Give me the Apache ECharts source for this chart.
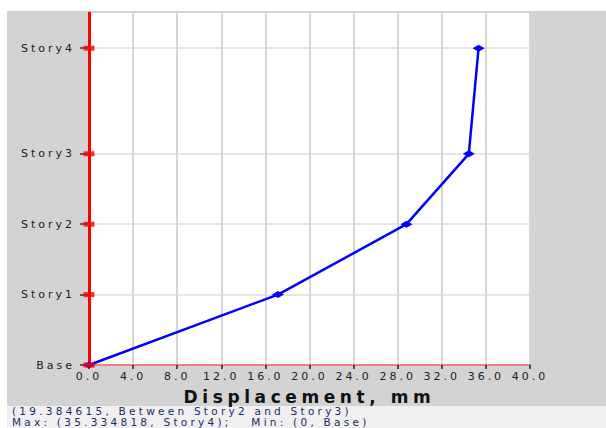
<!DOCTYPE html>
<html>
<head>
<meta charset="utf-8">
<script src="https://cdn.jsdelivr.net/npm/echarts@6/dist/echarts.min.js"></script>
<style>
  html, body { margin: 0; padding: 0; background: #fff; }
  .wrap { position: relative; width: 606px; height: 428px; overflow: hidden; font-family: "DejaVu Sans", sans-serif; }
  .panel { position: absolute; left: 7px; top: 11px; width: 599px; height: 395px; background: #d3d3d3; }
  .status { position: absolute; left: 7px; top: 406px; width: 599px; height: 22px; background: #f0f0f0; }
  .status div { position: absolute; left: 5px; font-size: 10.5px; line-height: 11px; height: 11px; color: #1d2a6b; letter-spacing: 0.31em; white-space: nowrap; }
  #chart { position: absolute; left: 0; top: 0; width: 606px; height: 428px; }
  /* spread the chart texts like the original */
  #chart text { letter-spacing: 0.27em; }
</style>
</head>
<body>
<div class="wrap">
  <div class="panel"></div>
  <div class="status">
    <div style="top: 0px;">(19.384615, Between Story2 and Story3)</div>
    <div style="top: 11px;">Max: (35.334818, Story4);&nbsp;&nbsp;&nbsp;Min: (0, Base)</div>
  </div>
  <div id="chart"></div>
</div>
<script>
// story names and elevations (m)
const storyNames = ['Base', 'Story1', 'Story2', 'Story3', 'Story4'];
const storyElev = [0, 3, 6, 9, 13.5];
// displacement at each story (mm)
const displacement = [0, 17.14, 28.8, 34.45, 35.334818];

const chart = echarts.init(document.getElementById('chart'), null, { renderer: 'svg' });

const lineData = displacement.map((d, i) => [d, storyElev[i]]);
const axisMarks = storyElev.map((e) => [0, e]);

const option = {
  animation: false,
  backgroundColor: 'transparent',
  textStyle: { fontFamily: 'DejaVu Sans' },
  grid: {
    left: 89,
    top: 13,
    right: 76,
    bottom: 63,
    show: true,
    backgroundColor: '#ffffff',
    borderWidth: 0,
  },
  xAxis: {
    type: 'value',
    min: 0,
    max: 40,
    interval: 4,
    name: 'Displacement, mm',
    nameLocation: 'middle',
    nameGap: 23,
    nameTextStyle: { fontSize: 17, fontWeight: 'bold', color: '#111' },
    axisLine: { show: true, onZero: false, lineStyle: { color: '#f08080', width: 2 } },
    axisTick: { show: true, length: 4, lineStyle: { color: '#222', width: 1.5 } },
    axisLabel: {
      fontSize: 11,
      color: '#222',
      margin: 6,
      formatter: (v) => v.toFixed(1),
    },
    splitLine: { show: true, lineStyle: { color: '#d6d6d6', width: 2 } },
  },
  yAxis: {
    type: 'value',
    min: 0,
    max: 15,
    axisLine: { show: true, onZero: false, lineStyle: { color: '#ff0000', width: 3 } },
    axisTick: {
      show: true,
      length: 9,
      customValues: storyElev,
      lineStyle: { color: '#333', width: 1.5 },
    },
    axisLabel: {
      fontSize: 11,
      color: '#222',
      margin: 14,
      customValues: storyElev,
      formatter: (v) => {
        const i = storyElev.indexOf(v);
        return i >= 0 ? storyNames[i] : '';
      },
    },
    splitLine: { show: true, lineStyle: { color: '#e6e6e6', width: 2 } },
  },
  series: [
    {
      name: 'Displacement',
      type: 'line',
      data: lineData,
      color: '#0000ff',
      lineStyle: { width: 2.5, color: '#0000ff' },
      symbol: 'diamond',
      symbolSize: [12, 7],
      itemStyle: { color: '#0000ff' },
      z: 3,
    },
    {
      name: 'Stories',
      type: 'scatter',
      data: axisMarks,
      symbol: 'rect',
      symbolSize: [11, 5],
      itemStyle: { color: '#ff0000' },
      clip: false,
      z: 4,
    },
  ],
};

chart.setOption(option);
</script>
</body>
</html>
